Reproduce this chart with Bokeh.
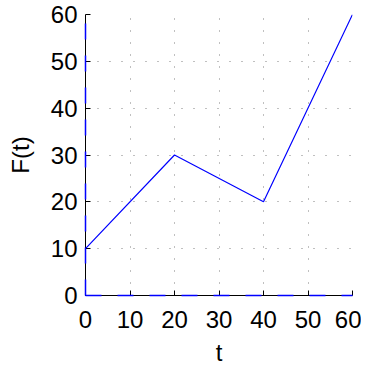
from bokeh.plotting import figure
from bokeh.embed import file_html
from bokeh.resources import INLINE
from bokeh.models import Range1d, FixedTicker

t = [0, 20, 40, 60]
F = [10, 30, 20, 60]
zero_t = [0, 60]
zero_F = [0, 0]
axis_t = [0, 0]
axis_F = [0, 60]
ticks = [0, 10, 20, 30, 40, 50, 60]

p = figure(width=361, height=368, output_backend="svg", toolbar_location=None,
           x_range=Range1d(0, 60), y_range=Range1d(0, 60),
           min_border_left=85, min_border_right=9, min_border_top=14, min_border_bottom=70)
p.outline_line_color = None
p.background_fill_color = "white"

p.line(t, F, line_color="#0000ff", line_width=1.2)
p.line(zero_t, zero_F, line_color="#0000ff", line_width=1.5, line_dash="16 16", level="overlay")
p.line(axis_t, axis_F, line_color="#0000ff", line_width=1.5, line_dash="16 16", level="overlay")

for ax in (p.xaxis[0], p.yaxis[0]):
    ax.ticker = FixedTicker(ticks=ticks)
    ax.minor_tick_line_color = None
    ax.major_tick_in = 5
    ax.major_tick_out = 0
    ax.axis_line_color = "black"
    ax.major_tick_line_color = "black"
    ax.major_label_text_font = "Liberation Sans"
    ax.major_label_text_font_size = "24px"
    ax.major_label_text_color = "black"
    ax.axis_label_text_font = "Liberation Sans"
    ax.axis_label_text_font_size = "24px"
    ax.axis_label_text_font_style = "normal"
    ax.axis_label_text_color = "black"

p.xaxis.axis_label = "t"
p.yaxis.axis_label = "F(t)"
p.xaxis.major_label_standoff = 15
p.yaxis.major_label_standoff = 8
p.xaxis.axis_label_standoff = 8
p.yaxis.axis_label_standoff = 14

for g in (p.xgrid[0], p.ygrid[0]):
    g.ticker = FixedTicker(ticks=ticks[1:])
    g.grid_line_color = "#808080"
    g.grid_line_dash = "1 11"
    g.grid_line_width = 1

open("out.html", "w").write(file_html(p, INLINE))
